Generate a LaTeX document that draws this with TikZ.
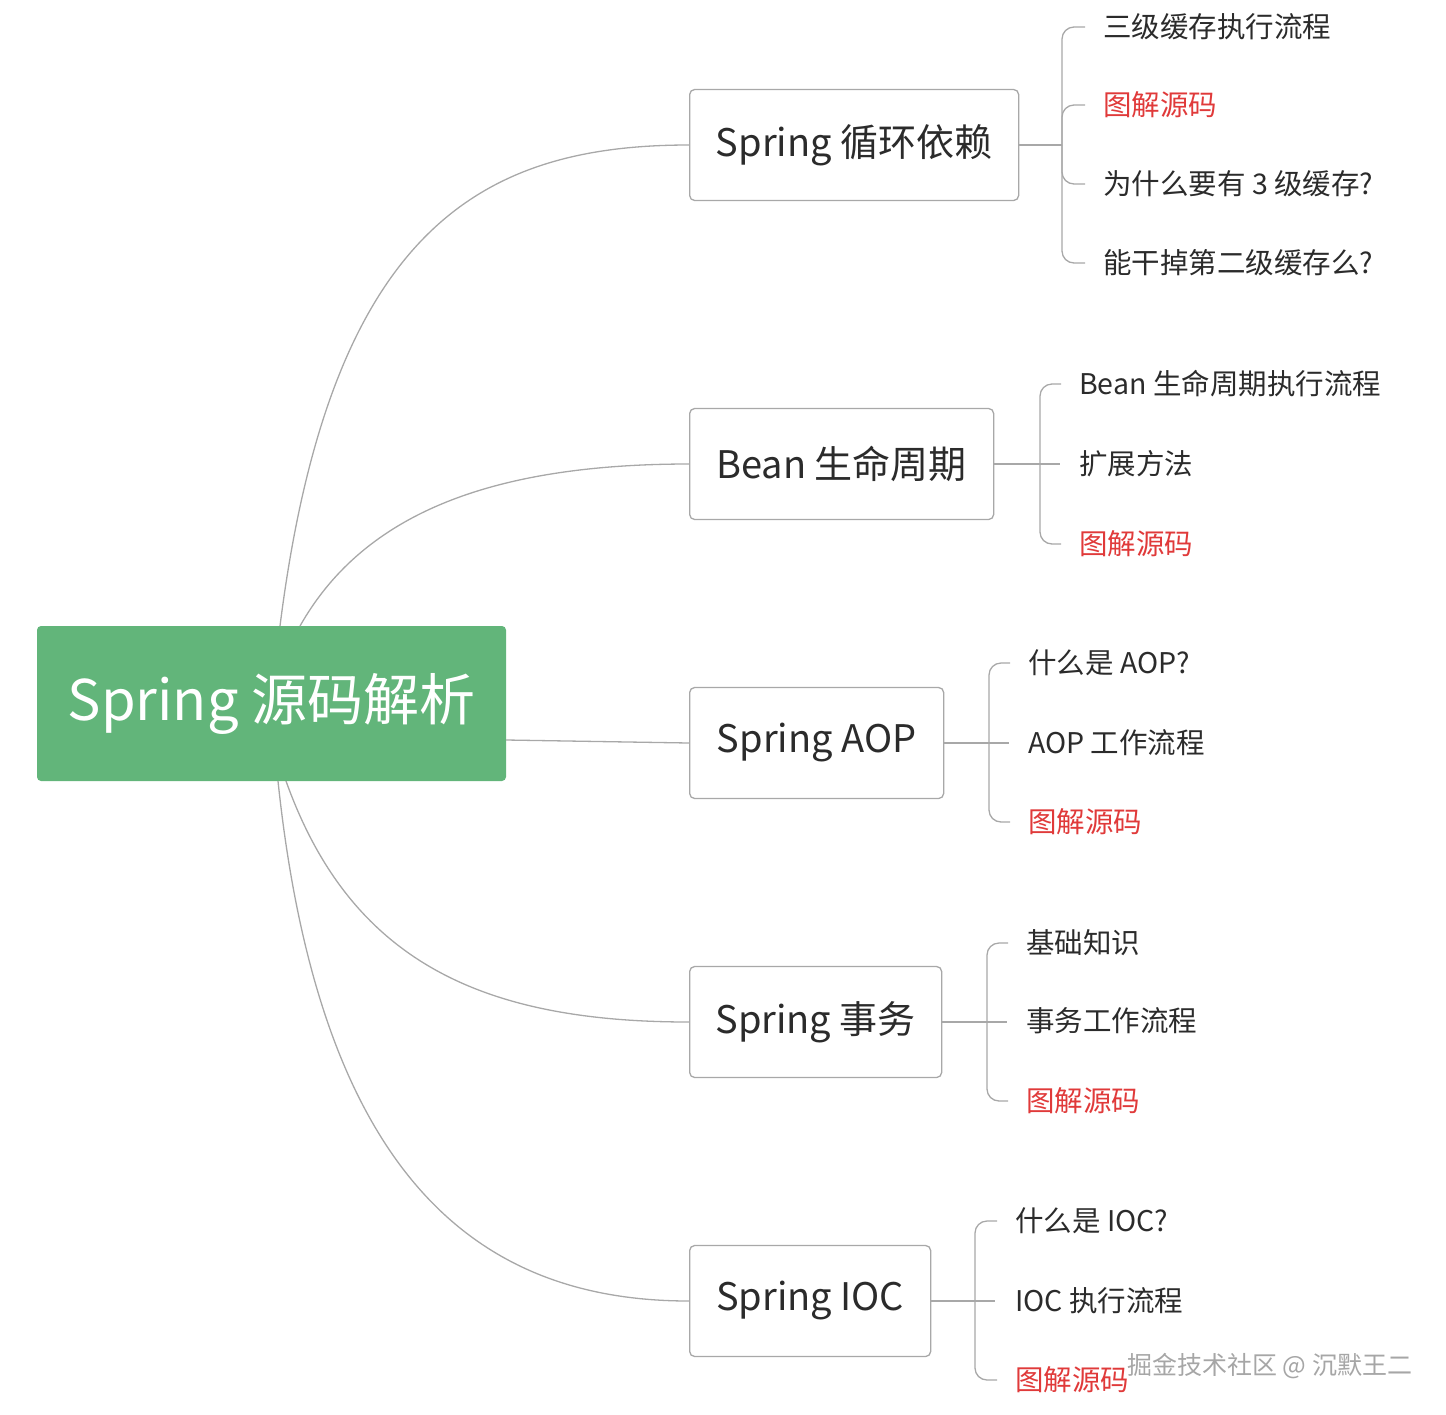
\documentclass[tikz,border=0pt]{standalone}
\usepackage{fontspec}
\setmainfont{Noto Sans CJK SC}
\definecolor{rootg}{HTML}{62B57A}
\definecolor{edge}{HTML}{A8A8A8}
\definecolor{leafred}{HTML}{E03A3A}
\definecolor{txt}{HTML}{2B2B2B}
\begin{document}
\begin{tikzpicture}[x=1pt,y=-1pt,
  rootbox/.style={fill=rootg,rounded corners=4pt,text=white,font=\fontsize{56}{60}\selectfont,inner sep=0,minimum height=155,minimum width=469},
  branchbox/.style={draw=edge,line width=1.3pt,rounded corners=5pt,fill=white,text=txt,font=\fontsize{38}{42}\selectfont,inner xsep=18,minimum height=111,anchor=west},
  leaf/.style={anchor=west,inner sep=0,text=txt,font=\fontsize{28.5}{32}\selectfont},
  redleaf/.style={leaf,text=leafred},
  conn/.style={draw=edge,line width=1.3pt},
  br/.style={conn,rounded corners=12pt}]
\useasboundingbox (0,0) rectangle (1446,1414);
\node[rootbox] (root) at (271.5,703.5) {Spring 源码解析};
\node[branchbox,minimum width=329] (b1) at (689,145) {Spring 循环依赖};
\node[branchbox,minimum width=304] (b2) at (689,464) {Bean 生命周期};
\node[branchbox,minimum width=254] (b3) at (689,743) {Spring AOP};
\node[branchbox,minimum width=252] (b4) at (689,1022) {Spring 事务};
\node[branchbox,minimum width=241] (b5) at (689,1301) {Spring IOC};
\coordinate (r1) at (280,626);
\coordinate (r2) at (300,626);
\coordinate (r4) at (286,781);
\coordinate (r5) at (278,781);
\draw[conn] (r1) .. controls (330,230) and (480,145) .. (b1.west);
\draw[conn] (r2) .. controls (360,520) and (480,464) .. (b2.west);
\draw[conn] (root.east |- 0,740) -- (b3.west);
\draw[conn] (r4) .. controls (350,960) and (480,1022) .. (b4.west);
\draw[conn] (r5) .. controls (320,1180) and (480,1301) .. (b5.west);
% branch 1
\coordinate (j1) at (1062,145);
\node[leaf] (l11) at (1103,27) {三级缓存执行流程};
\node[redleaf] (l12) at (1103,105) {图解源码};
\node[leaf] (l13) at (1103,184) {为什么要有 3 级缓存?};
\node[leaf] (l14) at (1103,263) {能干掉第二级缓存么?};
\draw[conn] (b1.east) -- (j1);
\foreach \l in {l11,l12,l13,l14} \draw[br] (j1) |- ([xshift=-18]\l.west);
% branch 2
\coordinate (j2) at (1040,464);
\node[leaf] (l21) at (1079,384) {Bean 生命周期执行流程};
\node[leaf] (l22) at (1079,464) {扩展方法};
\node[redleaf] (l23) at (1079,544) {图解源码};
\draw[conn] (b2.east) -- ([xshift=20]j2);
\foreach \l in {l21,l23} \draw[br] (j2) |- ([xshift=-18]\l.west);
% branch 3
\coordinate (j3) at (989,743);
\node[leaf] (l31) at (1028,663) {什么是 AOP?};
\node[leaf] (l32) at (1028,743) {AOP 工作流程};
\node[redleaf] (l33) at (1028,822) {图解源码};
\draw[conn] (b3.east) -- ([xshift=20]j3);
\foreach \l in {l31,l33} \draw[br] (j3) |- ([xshift=-18]\l.west);
% branch 4
\coordinate (j4) at (987,1022);
\node[leaf] (l41) at (1026,943) {基础知识};
\node[leaf] (l42) at (1026,1021) {事务工作流程};
\node[redleaf] (l43) at (1026,1101) {图解源码};
\draw[conn] (b4.east) -- ([xshift=20]j4);
\foreach \l in {l41,l43} \draw[br] (j4) |- ([xshift=-18]\l.west);
% branch 5
\coordinate (j5) at (975,1301);
\node[leaf] (l51) at (1015,1221) {什么是 IOC?};
\node[leaf] (l52) at (1015,1301) {IOC 执行流程};
\node[redleaf] (l53) at (1015,1380) {图解源码};
\draw[conn] (b5.east) -- ([xshift=20]j5);
\foreach \l in {l51,l53} \draw[br] (j5) |- ([xshift=-18]\l.west);
% watermark
\node[anchor=west,inner sep=0,text=gray!70,font=\fontsize{25}{28}\selectfont] (wm0) at (1127,1366) {掘金技术社区 @ 沉默王二};
\end{tikzpicture}
\end{document}
